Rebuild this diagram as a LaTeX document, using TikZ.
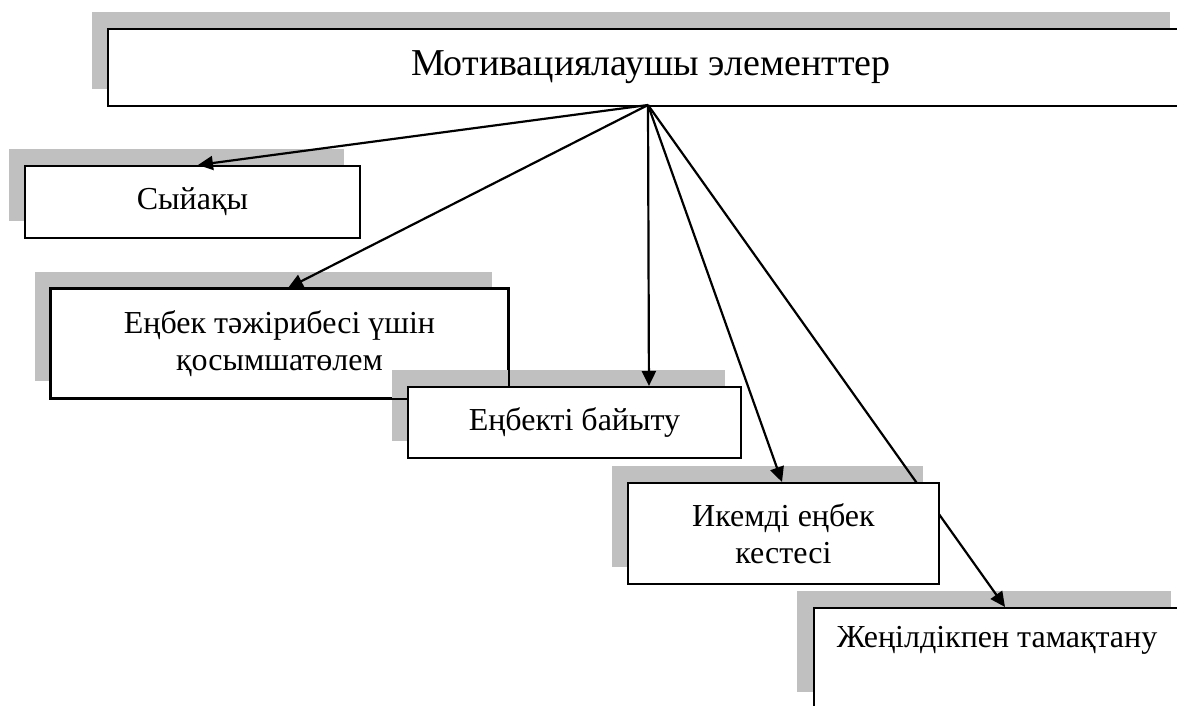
\documentclass[tikz,border=0pt]{standalone}
\usepackage{fontspec}
\setmainfont{Liberation Serif}
\usetikzlibrary{arrows.meta}
\definecolor{shadowgray}{RGB}{192,192,192}
\tikzset{
  box/.style={draw=black, line width=1.9pt, fill=white, inner sep=0pt, align=center,
    anchor=north west, font=\fontsize{32}{37}\selectfont},
  shade/.style={fill=shadowgray, draw=none},
  conn/.style={line width=2.2pt, -{Triangle[length=15pt,width=14pt]}},
  lbl/.style={inner sep=0pt, font=\fontsize{32}{37}\selectfont}
}
\begin{document}
\begin{tikzpicture}[x=1pt,y=-1pt]
\useasboundingbox (0,0) rectangle (1177,706);
% top
\fill[shade] (92,12) rectangle (1170,89);
\node[box, minimum width=1086pt, minimum height=77pt, font=\fontsize{38}{44}\selectfont] (top) at (107,28) {Мотивациялаушы элементтер};
\coordinate (hub) at (648,105);
% Syiaqy
\fill[shade] (9,149) rectangle (344,221);
\node[box, minimum width=335pt, minimum height=72pt] (sy) at (24,165) {Сыйақы};
% tazhiribe
\fill[shade] (35,272) rectangle (492,381);
\node[box, minimum width=457pt, minimum height=109pt] (tj) at (50,288) {Еңбек тәжірибесі үшін\\қосымшатөлем};
% bayytu
\fill[shade] (392,370) rectangle (725,441);
\draw[line width=1.9pt] (tj.north west) rectangle (tj.south east);
\node[box, minimum width=333pt, minimum height=71pt] (bay) at (407,386) {Еңбекті байыту};
% shadows of lower boxes
\fill[shade] (612,466) rectangle (923,567);
\fill[shade] (797,591) rectangle (1171,692);
% connectors
\draw[conn] (hub) -- ([xshift=5.5pt]sy.north);
\draw[conn] (hub) -- ([xshift=8.5pt]tj.north);
\draw[conn] (hub) -- ([xshift=74.5pt]bay.north);
\draw[conn] (hub) -- (782,482) coordinate (iktip);
\draw[conn] (hub) -- (1005,607) coordinate (zhtip);
% lower boxes
\node[box, minimum width=311pt, minimum height=101pt] (ik) at (627,482) {Икемді еңбек\\кестесі};
\node[box, minimum width=380pt, minimum height=130pt] (zh) at (813,607) {};
\node[lbl] (zhtext) at (997,640) {Жеңілдікпен тамақтану};
\end{tikzpicture}
\end{document}
